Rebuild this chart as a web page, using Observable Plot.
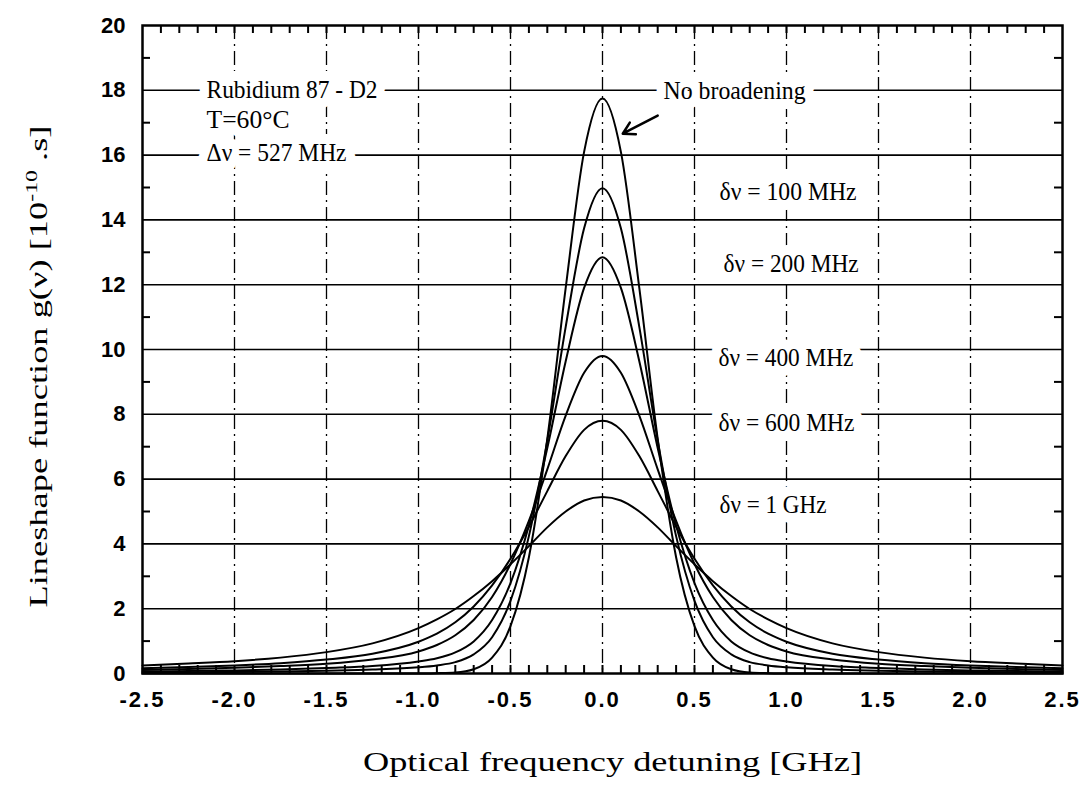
<!DOCTYPE html>
<html>
<head>
<meta charset="utf-8">
<script src="https://cdn.jsdelivr.net/npm/d3@7"></script>
<script src="https://cdn.jsdelivr.net/npm/@observablehq/plot@0.6"></script>
<style>
  html, body { margin: 0; padding: 0; background: #fff; }
  #chart svg { display: block; }
  #chart g[aria-label="x-axis tick label"] text { font-weight: bold; letter-spacing: 2px; }
  #chart g[aria-label="y-axis tick label"] text { font-weight: bold; }
</style>
</head>
<body>
<div id="chart"></div>
<script>
// ---- data ----
const detuning = [-2.5, -2.25, -2.0, -1.75, -1.5, -1.25, -1.0, -0.9, -0.8, -0.7, -0.6, -0.5, -0.4, -0.3, -0.2, -0.1,
  0, 0.1, 0.2, 0.3, 0.4, 0.5, 0.6, 0.7, 0.8, 0.9, 1.0, 1.25, 1.5, 1.75, 2.0, 2.25, 2.5];

const noBroadening = [0, 0, 0, 0, 0, 0, 0, 0.01, 0.03, 0.13, 0.49, 1.46, 3.59, 7.24, 11.9, 16.1,
  17.75, 16.1, 11.9, 7.24, 3.59, 1.46, 0.49, 0.13, 0.03, 0.01, 0, 0, 0, 0, 0, 0, 0];
const dv100 = [0.032, 0.04, 0.05, 0.065, 0.088, 0.12, 0.19, 0.25, 0.35, 0.59, 1.12, 2.24, 4.24, 7.19, 10.7, 13.74,
  14.98, 13.74, 10.7, 7.19, 4.24, 2.24, 1.12, 0.59, 0.35, 0.25, 0.19, 0.12, 0.088, 0.065, 0.05, 0.04, 0.032];
const dv200 = [0.062, 0.076, 0.095, 0.12, 0.17, 0.23, 0.37, 0.47, 0.65, 0.99, 1.65, 2.79, 4.57, 6.96, 9.64, 11.9,
  12.85, 11.9, 9.64, 6.96, 4.57, 2.79, 1.65, 0.99, 0.65, 0.47, 0.37, 0.23, 0.17, 0.12, 0.095, 0.076, 0.062];
const dv400 = [0.11, 0.14, 0.18, 0.23, 0.30, 0.43, 0.68, 0.88, 1.18, 1.65, 2.36, 3.38, 4.71, 6.30, 7.96, 9.28,
  9.8, 9.28, 7.96, 6.30, 4.71, 3.38, 2.36, 1.65, 1.18, 0.88, 0.68, 0.43, 0.30, 0.23, 0.18, 0.14, 0.11];
const dv600 = [0.16, 0.20, 0.25, 0.32, 0.43, 0.61, 0.98, 1.23, 1.58, 2.07, 2.72, 3.54, 4.53, 5.63, 6.71, 7.52,
  7.8, 7.52, 6.71, 5.63, 4.53, 3.54, 2.72, 2.07, 1.58, 1.23, 0.98, 0.61, 0.43, 0.32, 0.25, 0.20, 0.16];
const dv1000 = [0.25, 0.31, 0.38, 0.49, 0.66, 0.93, 1.40, 1.67, 1.99, 2.39, 2.85, 3.37, 3.93, 4.51, 5.0, 5.34,
  5.45, 5.34, 5.0, 4.51, 3.93, 3.37, 2.85, 2.39, 1.99, 1.67, 1.40, 0.93, 0.66, 0.49, 0.38, 0.31, 0.25];

const seriesNames = ["No broadening", "δν = 100 MHz", "δν = 200 MHz", "δν = 400 MHz", "δν = 600 MHz", "δν = 1 GHz"];
const seriesValues = [noBroadening, dv100, dv200, dv400, dv600, dv1000];

const xTickLabels = [-2.5, -2.0, -1.5, -1.0, -0.5, 0.0, 0.5, 1.0, 1.5, 2.0, 2.5];
const xGridValues = [-2.0, -1.5, -1.0, -0.5, 0.0, 0.5, 1.0, 1.5, 2.0];
const xMinorTicks = d3.range(-24, 25).map(i => i / 10);
const yTickLabels = [0, 2, 4, 6, 8, 10, 12, 14, 16, 18, 20];
const yGridValues = [2, 4, 6, 8, 10, 12, 14, 16, 18];
const yMinorTicks = [1, 3, 5, 7, 9, 11, 13, 15, 17, 19];

const xTitle = "Optical frequency detuning [GHz]";
const yTitle = "Lineshape function g(ν) [10^-10 .s]";

// annotation texts and their anchor positions (data units)
const annoText = ["Rubidium 87 - D2", "T=60°C", "Δν = 527 MHz", "No broadening",
  "δν = 100 MHz", "δν = 200 MHz", "δν = 400 MHz", "δν = 600 MHz", "δν = 1 GHz"];
const annoX = [-2.152, -2.152, -2.152, 0.332, 0.636, 0.658, 0.630, 0.630, 0.636];
const annoY = [18.02, 17.07, 16.05, 17.99, 14.85, 12.65, 9.75, 7.72, 5.19];
const annoLen = [171, 83, 140, 142, 137, 135, 135, 136, 107];
const arrowFrom = [0.30, 17.22];
const arrowTo = [0.11, 16.66];

// ---- build ----
const rows = seriesNames.flatMap((name, s) =>
  seriesValues[s].map((v, i) => ({series: name, x: detuning[i], g: v})));
const annos = annoText.map((t, i) => ({text: t, x: annoX[i], y: annoY[i]}));

const W = 1081, H = 785, mt = 25, mb = 112, ml = 142, mr = 19;
const innerW = W - ml - mr, innerH = H - mt - mb;
const serif = "'Liberation Serif', 'Times New Roman', serif";
const sans = "'Liberation Sans', Arial, sans-serif";

const svg = Plot.plot({
  width: W, height: H,
  marginTop: mt, marginBottom: mb, marginLeft: ml, marginRight: mr,
  style: {background: "white", fontFamily: sans, color: "black"},
  x: {domain: [-2.5, 2.5]},
  y: {domain: [0, 20]},
  marks: [
    Plot.ruleY(yGridValues, {stroke: "black", strokeWidth: 1.6}),
    Plot.ruleX(xGridValues, {stroke: "black", strokeWidth: 1.3, strokeDasharray: "14,5,2,5"}),
    Plot.tickX(xMinorTicks, {x: d => d, insetTop: innerH - 8, stroke: "black", strokeWidth: 2}),
    Plot.tickX(xMinorTicks, {x: d => d, insetBottom: innerH - 8, stroke: "black", strokeWidth: 2}),
    Plot.tickY(yMinorTicks, {y: d => d, insetRight: innerW - 8, stroke: "black", strokeWidth: 2}),
    Plot.tickY(yMinorTicks, {y: d => d, insetLeft: innerW - 8, stroke: "black", strokeWidth: 2}),
    Plot.line(rows, {x: "x", y: "g", z: "series", curve: "monotone-x", stroke: "black", strokeWidth: 2}),
    Plot.text(annos, {x: "x", y: "y", text: "text", textAnchor: "start", lineAnchor: "middle",
      fontFamily: serif, fontSize: 25, fill: "black",
      stroke: "white", strokeWidth: 20, strokeLinejoin: "round", paintOrder: "stroke"}),
    Plot.arrow([{x1: arrowFrom[0], y1: arrowFrom[1], x2: arrowTo[0], y2: arrowTo[1]}],
      {x1: "x1", y1: "y1", x2: "x2", y2: "y2", stroke: "black", strokeWidth: 2.5, headLength: 11}),
    Plot.frame({stroke: "black", strokeWidth: 2.5}),
    Plot.axisX(xTickLabels, {tickSize: 0, tickPadding: 18, tickFormat: d => d.toFixed(1),
      fontSize: 22, label: null}),
    Plot.axisY(yTickLabels, {tickSize: 0, tickPadding: 17, fontSize: 22, label: null}),
    Plot.text([xTitle], {frameAnchor: "bottom", dx: 10, dy: 89, lineAnchor: "middle",
      fontFamily: serif, fontSize: 28, fill: "black"}),
    Plot.text([yTitle], {frameAnchor: "bottom-left", dx: -104, dy: -66, rotate: -90,
      textAnchor: "start", lineAnchor: "middle",
      fontFamily: serif, fontSize: 26, fill: "black"})
  ]
});

document.getElementById("chart").appendChild(svg);

// stretch texts to the lengths seen in the reference, and set the superscript
const lengths = new Map(annoText.map((t, i) => [t, annoLen[i]]));
lengths.set(xTitle, 499);
d3.select(svg).selectAll("text").each(function () {
  const t = this.textContent;
  if (t === yTitle) {
    const sel = d3.select(this);
    sel.text(null);
    sel.append("tspan").text("Lineshape function g(ν) [10");
    sel.append("tspan").attr("dy", -10).attr("font-size", 17).text("-10");
    sel.append("tspan").attr("dy", 10).text(" .s]");
    this.setAttribute("textLength", 482);
    this.setAttribute("lengthAdjust", "spacingAndGlyphs");
  } else if (lengths.has(t)) {
    this.setAttribute("textLength", lengths.get(t));
    this.setAttribute("lengthAdjust", "spacingAndGlyphs");
  }
});
</script>
</body>
</html>
